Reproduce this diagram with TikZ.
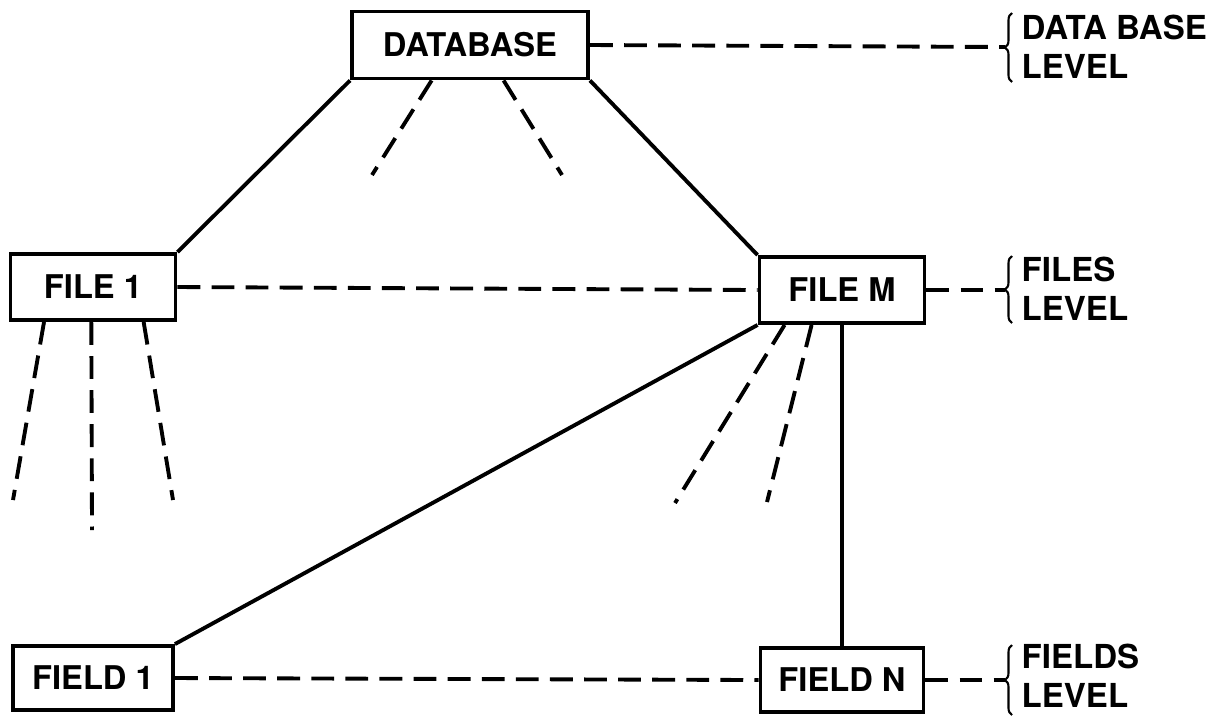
\documentclass[tikz,border=0pt]{standalone}
\usepackage{fontspec}
\setmainfont{TeX Gyre Heros}
\usetikzlibrary{calc,decorations.pathreplacing}

\begin{document}
\begin{tikzpicture}[x=0.1mm,y=-0.1mm,
  box/.style={rectangle, draw, line width=1.1pt, minimum width=1.65cm, minimum height=0.66cm, inner sep=0pt, font=\fontsize{9.3}{10}\selectfont\bfseries},
  link/.style={line width=1.1pt},
  dashlink/.style={line width=1.1pt, dash pattern=on 6.5pt off 3.2pt},
  lvl/.style={anchor=west, align=left, inner sep=0pt, font=\fontsize{9.4}{11}\selectfont\bfseries},
  lbrace/.style={line width=0.6pt, decorate, decoration={brace, amplitude=2pt}}]
\useasboundingbox (0,0) rectangle (1209,717);
% the three levels
\node (db) at (470,45) [box, minimum width=2.36cm, minimum height=0.67cm] {DATABASE};
	\node (file1) at (93,287) [box] {FILE 1};
	\node (fileM) at (842,290) [box] {FILE M};
		\node (field1) at (93,678) [box, minimum width=1.6cm, minimum height=0.64cm] {FIELD 1};
		\node (fieldN) at (842,680) [box, minimum width=1.63cm, minimum height=0.64cm] {FIELD N};
% loose ends of the dashed fans
\coordinate (dbl) at (372,175);
\coordinate (dbr) at (562,175);
\coordinate (f1a) at (13,500);
\coordinate (f1b) at (92,530);
\coordinate (f1c) at (173,500);
\coordinate (fMa) at (675,503);
\coordinate (fMb) at (767,502);
% level labels with their braces
\coordinate (dbtip) at (1005,47);
\coordinate (filetip) at (1005,290);
\coordinate (fieldtip) at (1005,680);
\draw[lbrace] (1012,82) -- (1012,13);
\draw[lbrace] (1012,323) -- (1012,256);
\draw[lbrace] (1012,715) -- (1012,645);
\node[lvl] (dblevel) at (1021,47) {DATA BASE\\LEVEL};
\node[lvl] (filelevel) at (1021,289) {FILES\\LEVEL};
\node[lvl] (fieldlevel) at (1021,676) {FIELDS\\LEVEL};
% solid links
\draw[link] (db.south west) to (file1.north east);
\draw[link] (db.south east) to (fileM.north west);
\draw[link] (fileM.south west) to (field1.north east);
\draw[link] (fileM.south) to (fieldN.north);
% dashed links
\draw[dashlink] (file1.east) to (fileM.west);
\draw[dashlink] (field1.east) to (fieldN.west);
\draw[dashlink] (db.east) to (dbtip);
\draw[dashlink] (fileM.east) to (filetip);
\draw[dashlink] (fieldN.east) to (fieldtip);
\draw[dashlink] ($(db.south west)!0.34!(db.south east)$) to (dbl);
\draw[dashlink] ($(db.south west)!0.64!(db.south east)$) to (dbr);
\draw[dashlink] ($(file1.south west)!0.21!(file1.south east)$) to (f1a);
\draw[dashlink] ($(file1.south west)!0.49!(file1.south east)$) to (f1b);
\draw[dashlink] ($(file1.south west)!0.80!(file1.south east)$) to (f1c);
\draw[dashlink] ($(fileM.south west)!0.16!(fileM.south east)$) to (fMa);
\draw[dashlink] ($(fileM.south west)!0.32!(fileM.south east)$) to (fMb);
\end{tikzpicture}
\end{document}
